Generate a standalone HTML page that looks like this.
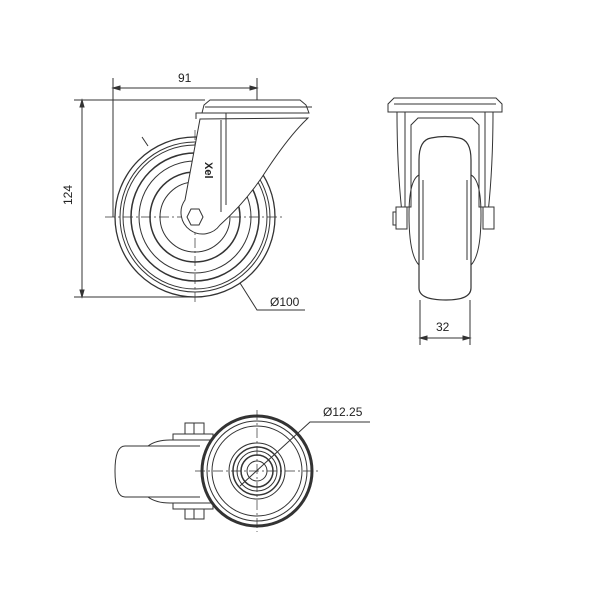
<!DOCTYPE html>
<html><head><style>body{margin:0;background:#fff}svg{display:block}</style></head><body>
<svg width="600" height="600" viewBox="0 0 600 600" xmlns="http://www.w3.org/2000/svg" font-family="Liberation Sans, sans-serif">
<g fill="none" stroke="#333" stroke-width="1">
<!-- dims front -->
<line x1="113" y1="88" x2="257" y2="88"/><path d="M113 88l7-2v4zM257 88l-7-2v4z" fill="#333"/>
<line x1="113" y1="78" x2="113" y2="217"/><line x1="257" y1="78" x2="257" y2="100"/>
<line x1="82" y1="100" x2="82" y2="297"/><path d="M82 100l-2 7h4zM82 297l-2-7h4z" fill="#333"/>
<line x1="74" y1="100" x2="205" y2="100"/><line x1="74" y1="297" x2="195" y2="297"/>
<path d="M240 283L257 310H305"/><path d="M142 137l6 9"/>
<!-- front wheel -->
<circle cx="195" cy="217" r="80" stroke-width="1.3"/>
<circle cx="195" cy="217" r="75"/><circle cx="195" cy="217" r="72"/>
<circle cx="195" cy="217" r="64" stroke-width="1.5"/><circle cx="195" cy="217" r="56"/>
<circle cx="195" cy="217" r="45" stroke-width="1.5"/><circle cx="195" cy="217" r="35"/>
<line x1="105" y1="217" x2="285" y2="217" stroke-dasharray="10 3 2 3" stroke-width=".7"/>
<line x1="195" y1="130" x2="195" y2="305" stroke-dasharray="10 3 2 3" stroke-width=".7"/>
<!-- bracket front -->
<path d="M200 119L185 200A20 20 0 0 0 220 225Q248 200 268 168Q290 135 308 118Z" fill="#fff"/>
<line x1="221" y1="120" x2="221" y2="212"/><line x1="226" y1="120" x2="226" y2="205"/>
<path d="M196 119v-6h30v7"/>
<path d="M202 113l2-8 6-5h90l6 5 3 8z" fill="#fff"/><line x1="205" y1="107" x2="312" y2="107"/>
<polygon points="187,217 191,209 199,209 203,217 199,225 191,225" fill="#fff"/>
<!-- side view -->
<path d="M388 112v-8l6-6h102l6 6v8z"/><line x1="394" y1="104" x2="496" y2="104"/>
<path d="M397 112q0 60 6 110M493 112q0 60-6 110"/>
<path d="M405 112v95h6V125l7-7h54l7 7v82h6v-95"/>
<path d="M419 160q0-20 12-22 14-3 28 0 12 2 12 22v128q0 12-25 12-27 0-27-12z" fill="#fff" stroke-width="1.2"/>
<path d="M419 175q-10 5-10 40 0 40 10 50M471 175q10 5 10 40 0 40-10 50"/>
<line x1="423" y1="180" x2="423" y2="260"/><line x1="467" y1="180" x2="467" y2="260"/>
<rect x="396" y="207" width="11" height="22" fill="#fff"/><rect x="393" y="212" width="3" height="13"/>
<rect x="483" y="207" width="11" height="22" fill="#fff"/>
<line x1="420" y1="300" x2="420" y2="345"/><line x1="470" y1="300" x2="470" y2="345"/>
<line x1="420" y1="338" x2="470" y2="338"/><path d="M420 338l7-2v4zM470 338l-7-2v4z" fill="#333"/>
<!-- bottom view -->
<path d="M200 446H125q-10 0-10 25 0 26 10 26H200"/>
<path d="M148 446q8-6 22-6h30M148 497q8 6 22 6h30"/>
<rect x="173" y="434" width="40" height="6"/><rect x="173" y="503" width="40" height="6"/>
<rect x="185" y="423" width="19" height="11"/><rect x="185" y="509" width="19" height="10"/>
<line x1="194" y1="423" x2="194" y2="434"/><line x1="194" y1="509" x2="194" y2="519"/>
<circle cx="257" cy="471" r="55" stroke-width="3" fill="#fff"/>
<circle cx="257" cy="471" r="50"/><circle cx="257" cy="471" r="45"/>
<circle cx="257" cy="471" r="28"/><circle cx="257" cy="471" r="24" stroke-width="1.5"/><circle cx="257" cy="471" r="20"/>
<circle cx="257" cy="471" r="16" stroke-width="1.5"/><circle cx="257" cy="471" r="10"/>
<line x1="195" y1="471" x2="320" y2="471" stroke-dasharray="10 3 2 3" stroke-width=".7"/>
<line x1="257" y1="410" x2="257" y2="532" stroke-dasharray="10 3 2 3" stroke-width=".7"/>
<path d="M240 486L310 422H370"/>
</g>
<g font-size="12" fill="#222">
<text x="178" y="82">91</text>
<text x="77" y="200" transform="rotate(-90 72 200)" text-anchor="middle">124</text>
<text x="270" y="306">Ø100</text>
<text x="436" y="331">32</text>
<text x="323" y="416">Ø12.25</text>
<text x="205" y="162" font-size="11" font-weight="bold" transform="rotate(90 205 162)">Xel</text>
</g>
</svg>
</body></html>
